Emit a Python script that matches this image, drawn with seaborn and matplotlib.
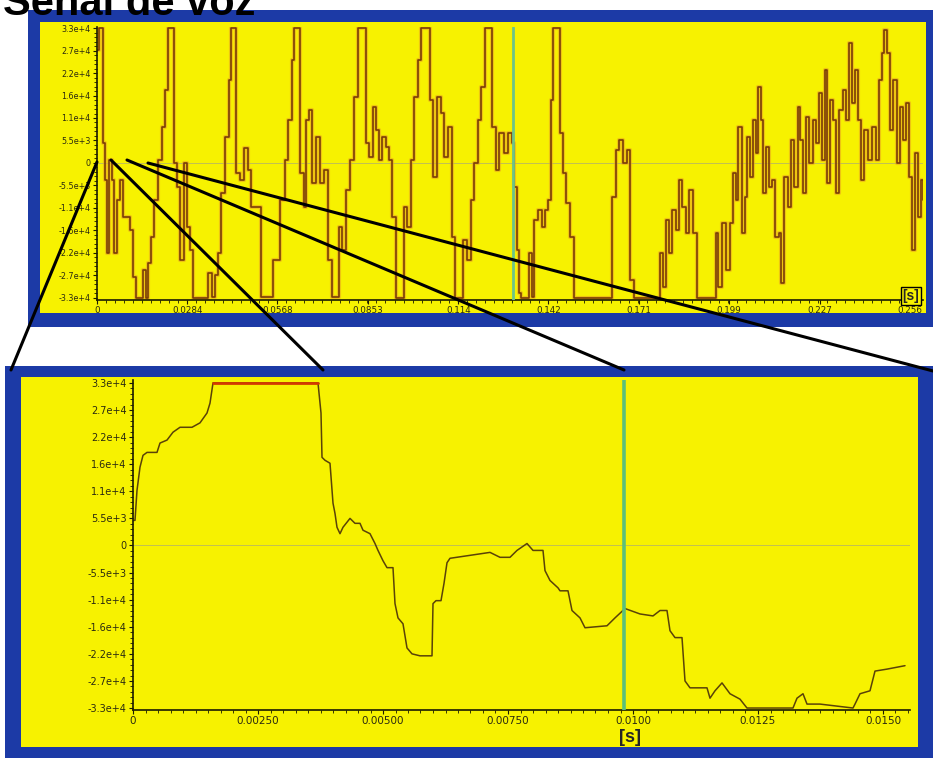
import matplotlib
matplotlib.use("Agg")
import matplotlib.pyplot as plt
import seaborn as sns
import pandas as pd
from matplotlib.patches import Rectangle
from matplotlib.lines import Line2D
from matplotlib.ticker import FixedLocator, AutoMinorLocator

# ---------------- data ----------------
# upper panel: full utterance, time in ms, amplitude in thousands
upper_t_ms = [0, 0.63, 1.58, 1.89, 2.52, 3.15, 3.78, 4.73, 5.36, 6.3, 7.25, 8.19, 9.45, 10.4, 11.3, 12.3,
              13.9, 14.5, 15.4, 16.1, 17.0, 18.0, 19.2, 20.5, 21.4, 22.4, 23.6, 24.3, 25.2, 26.1, 27.4,
              28.4, 29.3, 30.2, 34.0, 35.0, 36.2, 37.2, 38.1, 39.1, 40.3, 41.6, 42.2, 43.5, 43.8, 45.0,
              46.3, 47.6, 48.5, 50.1, 51.7, 54.5, 55.4, 56.7, 57.6, 59.2, 60.2, 61.4, 62.1, 63.3, 63.9,
              65.2, 65.8, 66.8, 67.7, 69.0, 70.2, 71.5, 72.8, 74.0, 75.6, 76.2, 77.2, 78.4, 79.7, 81.0,
              82.2, 84.1, 84.7, 85.7, 86.9, 87.9, 88.8, 89.8, 91.0, 92.0, 92.9, 94.2, 96.1, 96.7, 97.7,
              98.9, 99.9, 101.1, 102.1, 104.0, 104.9, 105.8, 107.1, 108.4, 109.3, 110.6, 111.8, 112.8,
              114.3, 115.3, 116.6, 117.8, 118.8, 120.0, 121.0, 122.2, 123.8, 124.4, 125.7, 126.6, 128.2,
              129.5, 130.7, 131.4, 132.3, 132.9, 133.6, 135.5, 136.1, 137.0, 137.7, 138.9, 140.2, 141.1,
              142.1, 143.0, 143.6, 144.9, 145.8, 146.8, 147.7, 149.0, 150.3, 161.6, 162.2, 163.5, 164.4,
              165.7, 166.9, 167.9, 169.2, 176.4, 177.3, 178.3, 179.2, 180.2, 181.1, 182.4, 183.3, 184.3,
              185.5, 186.5, 187.7, 189.0, 194.4, 195.0, 195.6, 196.9, 198.1, 199.4, 200.3, 201.3, 201.9,
              203.2, 204.1, 204.8, 205.7, 206.6, 207.6, 208.2, 209.2, 209.8, 210.7, 211.7, 212.6, 213.6,
              214.8, 215.5, 216.4, 217.7, 218.6, 219.6, 220.8, 221.4, 222.4, 223.3, 224.3, 225.5, 226.5,
              227.4, 228.4, 229.3, 230.0, 230.9, 231.8, 232.8, 233.7, 235.0, 235.9, 236.9, 237.8, 238.8,
              239.7, 240.7, 241.6, 242.9, 244.1, 245.4, 246.3, 247.3, 247.9, 248.9, 249.8, 250.7, 252.0,
              252.9, 253.9, 254.8, 255.8, 256.7, 257.7, 258.6, 259.6, 260.2]
upper_amp_k = [27.6, 33, 33, 4.9, -4.1, -22.0, 0.7, -4.1, -22.0, -9.0, -4.1, -13.2, -13.2, -16.3, -27.8, -33,
               -33, -26.1, -33, -24.4, -18.1, -9.0, 0.7, 8.8, 17.8, 33, 33, 0, -5.9, -23.7, 0,
               -15.6, -21.2, -33, -33, -26.8, -32.7, -27.3, -22.0, -7.3, 6.3, 20.3, 33, 33, -2.4, -4.1,
               3.7, -1.7, -10.7, -10.7, -32.7, -32.7, -23.7, -23.7, -9.0, 0.7, 10.5, 25.1, 33, 33, -2.4,
               -10.7, 10.5, 12.9, -4.9, 6.3, -4.9, -1.7, -23.7, -32.7, -32.7, -15.6, -21.2, -6.6, 0.7, 16.1,
               33, 33, 4.9, 1.5, 13.7, 8.1, 0.7, 6.3, 3.9, 0.7, -13.2, -33, -33, -10.7, -15.6,
               0.7, 16.1, 25.1, 33, 33, 15.4, -3.4, 16.1, 12.2, 1.5, 8.8, -18.1, -33,
               -33, -18.8, -23.7, -9.0, 0, 10.5, 18.5, 33, 33, 8.8, -1.7, 7.3, 2.4,
               7.3, 4.9, -5.9, -21.2, -31.7, -33, -33, -22.0, -32.7, -13.9, -11.5, -15.6, -11.5,
               -9.0, 15.4, 33, 33, 7.3, -2.4, -9.8, -18.1, -33, -33, -8.3, 3.2, 5.6,
               0, 3.2, -28.5, -33, -33, -22.0, -30.3, -13.9, -22.0, -11.5, -16.3, -4.1, -10.7,
               -17.1, -6.6, -17.1, -33, -33, -17.1, -30.3, -14.6, -26.1, -14.6, -2.4, -9.0, 8.8,
               -17.1, -8.3, 6.3, -3.4, 10.5, 2.4, 18.5, 10.5, -7.3, 3.9, -5.9, -4.1, -18.1,
               -17.1, -29.3, -3.4, -10.7, 5.6, -5.9, 13.7, 5.6, -7.3, 11.2, 0, 10.5, 4.9,
               17.1, 0.7, 22.7, -4.9, 15.4, 10.5, -7.3, 12.9, 17.8, 10.5, 29.3, 14.6, 22.7,
               10.5, -4.1, 8.1, 0.7, 8.8, 0.7, 20.3, 26.8, 32.5, 26.8, 8.1, 20.3, 0,
               13.7, 5.6, 14.6, -3.4, -21.2, 2.4, -13.2, -4.1, -9.0]

# lower panel: zoom on the first 15.5 ms
lower_t_ms = [0, 0.04, 0.08, 0.14, 0.20, 0.28, 0.48, 0.54, 0.68, 0.80, 0.94, 1.18, 1.34, 1.48, 1.54, 1.60,
              3.70, 3.76, 3.78, 3.84, 3.94, 4.00, 4.04, 4.08, 4.14, 4.20, 4.34, 4.44, 4.54, 4.60, 4.74,
              4.84, 4.90, 5.00, 5.08, 5.20, 5.24, 5.30, 5.40, 5.48, 5.58, 5.74, 5.98, 6.00, 6.06, 6.16,
              6.22, 6.28, 6.34, 6.74, 7.14, 7.34, 7.54, 7.68, 7.88, 8.00, 8.20, 8.24, 8.34, 8.50, 8.54,
              8.70, 8.78, 8.94, 9.04, 9.48, 9.64, 9.84, 10.14, 10.40, 10.54, 10.68, 10.74, 10.84, 10.98,
              11.04, 11.14, 11.48, 11.54, 11.64, 11.78, 11.94, 12.14, 12.28, 12.40, 13.20, 13.28, 13.40,
              13.48, 13.74, 14.40, 14.44, 14.54, 14.74, 14.84, 15.08, 15.44]
lower_amp_k = [5.1, 5.1, 11.2, 15.9, 18.3, 18.9, 18.9, 20.8, 21.4, 23.0, 24.0, 24.0, 24.9, 26.9, 28.9, 33,
               33, 26.9, 17.9, 17.3, 16.7, 8.6, 6.5, 3.7, 2.4, 3.7, 5.5, 4.5, 4.5, 3.1, 2.4,
               0.4, -1.0, -3.1, -4.5, -4.5, -11.8, -14.7, -15.9, -20.8, -22.0, -22.4, -22.4, -11.8, -11.2, -11.2,
               -7.7, -3.5, -2.6, -2.0, -1.4, -2.4, -2.4, -1.0, 0.4, -1.0, -1.0, -5.1, -7.1, -8.6, -9.2,
               -9.2, -13.2, -14.7, -16.7, -16.3, -14.7, -12.8, -13.9, -14.3, -13.2, -13.2, -17.3, -18.7, -18.7,
               -27.5, -28.9, -28.9, -31.0, -29.5, -27.9, -30.1, -31.2, -33, -33, -33, -31.0, -30.1,
               -32.2, -32.2, -33, -32.2, -30.1, -29.5, -25.5, -25.1, -24.4]

amp_ticks = [-33000, -27500, -22000, -16500, -11000, -5500, 0, 5500, 11000, 16500, 22000, 27500, 33000]
amp_labels = ["-3.3e+4", "-2.7e+4", "-2.2e+4", "-1.6e+4", "-1.1e+4", "-5.5e+3", "0",
              "5.5e+3", "1.1e+4", "1.6e+4", "2.2e+4", "2.7e+4", "3.3e+4"]
upper_xticks = [0, 0.0284, 0.0568, 0.0853, 0.1138, 0.1422, 0.1707, 0.1991, 0.2276, 0.256]
upper_xlabels = ["0", "0.0284", "0.0568", "0.0853", "0.114", "0.142", "0.171", "0.199", "0.227", "0.256"]
lower_xticks = [0, 0.0025, 0.005, 0.0075, 0.01, 0.0125, 0.015]
lower_xlabels = ["0", "0.00250", "0.00500", "0.00750", "0.0100", "0.0125", "0.0150"]
upper_cursor_s = 0.131
lower_cursor_s = 0.00982

upper_df = pd.DataFrame({"t": [v / 1000 for v in upper_t_ms], "a": [v * 1000 for v in upper_amp_k]})
lower_df = pd.DataFrame({"t": [v / 1000 for v in lower_t_ms], "a": [v * 1000 for v in lower_amp_k]})

# ---------------- figure ----------------
sns.set_theme(style="white")
plt.rcParams["font.family"] = ["Liberation Sans", "DejaVu Sans"]

W, H = 933, 761
fig = plt.figure(figsize=(W / 100, H / 100), dpi=100)
fig.patch.set_facecolor("white")

BLUE = "#1c3aa6"
YELLOW = "#f7f200"


def rect(x0, y0, x1, y1, color, z):
    fig.add_artist(Rectangle((x0 / W, 1 - y1 / H), (x1 - x0) / W, (y1 - y0) / H,
                             transform=fig.transFigure, facecolor=color, edgecolor="none", zorder=z))


rect(28, 10, 933, 327, BLUE, -3)
rect(40, 22, 926, 313, YELLOW, -2)
rect(5, 366, 933, 758, BLUE, -3)
rect(21, 377, 918, 747, YELLOW, -2)


def style_axes(ax, xticks, xlabels, xminor, xsize, ysize):
    ax.set_facecolor("none")
    for s in ["top", "right"]:
        ax.spines[s].set_visible(False)
    for s in ["left", "bottom"]:
        ax.spines[s].set_color("#1a1a00")
        ax.spines[s].set_linewidth(1.2)
    ax.yaxis.set_major_locator(FixedLocator(amp_ticks))
    ax.set_yticklabels(amp_labels, fontfamily="DejaVu Sans")
    ax.xaxis.set_major_locator(FixedLocator(xticks))
    ax.set_xticklabels(xlabels, fontfamily="DejaVu Sans")
    ax.yaxis.set_minor_locator(AutoMinorLocator(5))
    ax.xaxis.set_minor_locator(AutoMinorLocator(xminor))
    ax.tick_params(which="major", length=3, width=0.8, color="#1a1a00",
                   labelcolor="#2a2a10", pad=1.5, left=True, bottom=True)
    ax.tick_params(axis="x", which="major", labelsize=xsize)
    ax.tick_params(axis="y", which="major", labelsize=ysize)
    ax.tick_params(which="minor", length=2, width=0.6, color="#1a1a00", left=True, bottom=True)
    ax.set_xlabel("")
    ax.set_ylabel("")
    ax.axhline(0, color="#b8b860", lw=0.6, zorder=1)


# upper panel
ax1 = fig.add_axes([97 / W, 1 - 300 / H, (923 - 97) / W, (300 - 27) / H])
sns.lineplot(data=upper_df, x="t", y="a", ax=ax1, estimator=None, sort=False,
             drawstyle="steps-post", color="#e8a020", lw=3.0, alpha=0.55)
sns.lineplot(data=upper_df, x="t", y="a", ax=ax1, estimator=None, sort=False,
             drawstyle="steps-post", color="#7a3c08", lw=1.2)
ax1.axvline(upper_cursor_s, color="#6cc48a", lw=2.0, zorder=3)
ax1.set_xlim(0, 0.2602)
ax1.set_ylim(-33500, 33250)
style_axes(ax1, upper_xticks, upper_xlabels, 10, 6.3, 5.8)

# lower panel
ax2 = fig.add_axes([133 / W, 1 - 710 / H, (910 - 133) / W, (710 - 380) / H])
sns.lineplot(data=lower_df, x="t", y="a", ax=ax2, estimator=None, sort=False,
             color="#5a4208", lw=1.1)
clip = lower_df[lower_df["a"] >= 33000]
sns.lineplot(data=clip, x="t", y="a", ax=ax2, estimator=None, sort=False,
             color="#d23a00", lw=2.0)
ax2.axvline(lower_cursor_s, color="#5cc07a", lw=2.6, zorder=3)
ax2.set_xlim(0, 0.01554)
ax2.set_ylim(-33400, 33600)
style_axes(ax2, lower_xticks, lower_xlabels, 10, 7.5, 7.0)

# title (cut off at the top of the slide, as in the original)
fig.text(255 / W, 1 - 15 / H, "Señal de voz", ha="right", va="baseline",
         fontsize=30, fontweight="bold", color="black")

# unit labels
fig.text(911 / W, 1 - 296 / H, "[s]", ha="center", va="center", fontsize=10, fontweight="bold",
         bbox=dict(boxstyle="square,pad=0.12", fc=YELLOW, ec="black", lw=1.0), zorder=6)
fig.text(630 / W, 1 - 738 / H, "[s]", ha="center", va="center", fontsize=13, fontweight="bold",
         zorder=6)

# zoom connector lines
for (x0, y0, x1, y1) in [(97, 162, 11, 370), (111, 160, 323, 370),
                         (127, 160, 624, 370), (148, 163, 933, 371)]:
    fig.add_artist(Line2D([x0 / W, x1 / W], [1 - y0 / H, 1 - y1 / H], transform=fig.transFigure,
                          color="black", lw=2.2, zorder=10))

fig.savefig("out.png", dpi=100)
